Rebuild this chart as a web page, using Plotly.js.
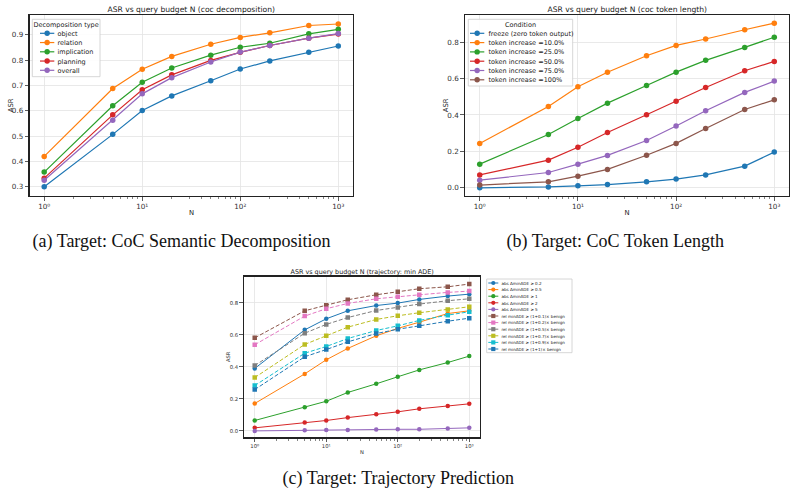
<!DOCTYPE html>
<html><head><meta charset="utf-8">
<script src="https://cdn.plot.ly/plotly-3.0.1.min.js"></script>
<style>
html,body{margin:0;padding:0;background:#fff;overflow:hidden;width:796px;height:495px}
#wrap{width:796px;height:495px;overflow:hidden;position:relative}
#chart{width:1592px;height:990px;transform:scale(0.5);transform-origin:0 0;position:absolute;left:0;top:0}
</style>
</head><body><div id="wrap"><div id="chart"></div></div>
<script>
// ---------------- DATA ----------------
const N = [1, 5, 10, 20, 50, 100, 200, 500, 1000];
const xTickVals = [1, 10, 100, 1000];
const xTickText = ['10⁰', '10¹', '10²', '10³'];

// (a) CoC semantic decomposition
const decompNames = ['object', 'relation', 'implication', 'planning', 'overall'];
const decObject      = [0.300, 0.507, 0.601, 0.659, 0.719, 0.765, 0.797, 0.831, 0.856];
const decRelation    = [0.420, 0.688, 0.764, 0.815, 0.863, 0.890, 0.908, 0.937, 0.943];
const decImplication = [0.358, 0.620, 0.713, 0.769, 0.820, 0.851, 0.867, 0.904, 0.922];
const decPlanning    = [0.334, 0.584, 0.683, 0.742, 0.799, 0.831, 0.858, 0.887, 0.903];
const decOverall     = [0.326, 0.563, 0.667, 0.731, 0.793, 0.832, 0.858, 0.887, 0.905];

// (b) CoC token length
const tokNames = ['freeze (zero token output)', 'token increase =10.0%', 'token increase =25.0%',
                  'token increase =50.0%', 'token increase =75.0%', 'token increase =100%'];
const tokFreeze = [0.000, 0.005, 0.011, 0.018, 0.033, 0.048, 0.071, 0.119, 0.196];
const tok10     = [0.243, 0.447, 0.555, 0.635, 0.725, 0.782, 0.817, 0.868, 0.904];
const tok25     = [0.130, 0.293, 0.381, 0.465, 0.562, 0.635, 0.700, 0.771, 0.827];
const tok50     = [0.071, 0.152, 0.223, 0.304, 0.401, 0.476, 0.551, 0.643, 0.694];
const tok75     = [0.042, 0.084, 0.130, 0.178, 0.260, 0.339, 0.423, 0.524, 0.586];
const tok100    = [0.015, 0.033, 0.064, 0.101, 0.179, 0.244, 0.326, 0.430, 0.483];

// (c) Trajectory prediction
const trajNames = ['abs ΔminADE ≥ 0.2', 'abs ΔminADE ≥ 0.5', 'abs ΔminADE ≥ 1', 'abs ΔminADE ≥ 2',
  'abs ΔminADE ≥ 5', 'rel minADE ≥ (1+0.1)× benign', 'rel minADE ≥ (1+0.2)× benign',
  'rel minADE ≥ (1+0.5)× benign', 'rel minADE ≥ (1+0.7)× benign', 'rel minADE ≥ (1+0.9)× benign',
  'rel minADE ≥ (1+1)× benign'];
const abs02 = [0.390, 0.631, 0.700, 0.750, 0.783, 0.798, 0.821, 0.842, 0.854];
const abs05 = [0.171, 0.356, 0.444, 0.515, 0.594, 0.640, 0.679, 0.733, 0.750];
const abs1  = [0.065, 0.148, 0.185, 0.240, 0.294, 0.338, 0.381, 0.427, 0.467];
const abs2  = [0.019, 0.052, 0.065, 0.083, 0.104, 0.119, 0.138, 0.156, 0.169];
const abs5  = [0.000, 0.004, 0.006, 0.006, 0.008, 0.010, 0.010, 0.015, 0.019];
const rel01 = [0.581, 0.750, 0.785, 0.819, 0.850, 0.869, 0.888, 0.900, 0.917];
const rel02 = [0.538, 0.717, 0.763, 0.796, 0.825, 0.838, 0.850, 0.865, 0.873];
const rel05 = [0.408, 0.610, 0.665, 0.708, 0.752, 0.771, 0.792, 0.813, 0.825];
const rel07 = [0.333, 0.540, 0.594, 0.648, 0.696, 0.719, 0.738, 0.758, 0.775];
const rel09 = [0.283, 0.485, 0.527, 0.577, 0.627, 0.656, 0.690, 0.723, 0.744];
const rel10 = [0.258, 0.463, 0.508, 0.556, 0.608, 0.635, 0.656, 0.685, 0.704];

// ---------------- STYLE ----------------
// The figure is laid out at 2x and scaled down with CSS, so tiny fonts are not clamped.
const S = 2;
const tab10 = ['#1f77b4', '#ff7f0e', '#2ca02c', '#d62728', '#9467bd', '#8c564b', '#e377c2', '#7f7f7f', '#bcbd22', '#17becf'];
const W = 796, H = 495;
const px = x => x / W, py = y => 1 - y / H;
const FONT = 'DejaVu Sans, sans-serif';
const SERIF = 'Liberation Serif, Times New Roman, serif';

const minorVals = [];
for (let d = 1; d <= 100; d *= 10) for (let k = 2; k <= 9; k++) minorVals.push(k * d);

// panel boxes in (display) pixels: [left, right, top, bottom]
const boxA = [29.5, 353, 15, 196];
const boxB = [465, 789, 15, 196];
const boxC = [244, 480, 276.7, 437.3];

function xax(box, anchor, fs) {
  return {
    domain: [px(box[0]), px(box[1])], anchor: anchor, type: 'log', range: [-0.15, 3.15],
    tickmode: 'array', tickvals: xTickVals, ticktext: xTickText,
    ticks: 'outside', ticklen: 3.5 * S, tickwidth: 0.8 * S, tickcolor: '#333',
    showline: true, mirror: true, linecolor: '#222', linewidth: 1.3 * S,
    showgrid: true, gridcolor: '#e4e4e4', gridwidth: 0.8 * S, zeroline: false,
    tickfont: {family: FONT, size: fs * S, color: '#333'},
    minor: {tickmode: 'array', tickvals: minorVals, ticks: 'outside', ticklen: 2 * S, tickwidth: 0.6 * S, tickcolor: '#333', showgrid: false},
    fixedrange: true
  };
}
function yax(box, anchor, range, dtick, fs) {
  return {
    domain: [py(box[3]), py(box[2])], anchor: anchor, range: range,
    tickmode: 'linear', tick0: 0, dtick: dtick, tickformat: '.1f',
    ticks: 'outside', ticklen: 3.5 * S, tickwidth: 0.8 * S, tickcolor: '#333',
    showline: true, mirror: true, linecolor: '#222', linewidth: 1.3 * S,
    showgrid: true, gridcolor: '#e4e4e4', gridwidth: 0.8 * S, zeroline: false,
    tickfont: {family: FONT, size: fs * S, color: '#333'},
    fixedrange: true
  };
}

const traces = [];
function addSeries(ys, name, color, xa, ya, opts) {
  traces.push({
    x: N, y: ys, name: name, type: 'scatter', mode: 'lines+markers',
    xaxis: xa, yaxis: ya, showlegend: false,
    line: {color: color, width: opts.lw * S, dash: opts.dash || 'solid'},
    marker: {color: color, size: opts.ms * S, symbol: opts.symbol || 'circle'},
    hoverinfo: 'skip'
  });
}

const decSeries = [decObject, decRelation, decImplication, decPlanning, decOverall];
decSeries.forEach((s, i) => addSeries(s, decompNames[i], tab10[i], 'x', 'y', {lw: 1.2, ms: 5.5}));
const tokSeries = [tokFreeze, tok10, tok25, tok50, tok75, tok100];
tokSeries.forEach((s, i) => addSeries(s, tokNames[i], tab10[i], 'x2', 'y2', {lw: 1.2, ms: 5.5}));
const trajSeries = [abs02, abs05, abs1, abs2, abs5, rel01, rel02, rel05, rel07, rel09, rel10];
const trajColors = [tab10[0], tab10[1], tab10[2], tab10[3], tab10[4], tab10[5], tab10[6], tab10[7], tab10[8], tab10[9], tab10[0]];
trajSeries.forEach((s, i) => {
  const rel = i >= 5;
  addSeries(s, trajNames[i], trajColors[i], 'x3', 'y3',
    {lw: 1, ms: 4.5, symbol: rel ? 'square' : 'circle', dash: rel ? (4 * S) + 'px,' + (2 * S) + 'px' : 'solid'});
});

// ---------------- ANNOTATIONS / LEGENDS ----------------
const annotations = [];
const shapes = [];
function txt(x, y, text, size, opts) {
  opts = opts || {};
  annotations.push({
    x: px(x), y: py(y), xref: 'paper', yref: 'paper', text: text, showarrow: false,
    xanchor: opts.xanchor || 'center', yanchor: opts.yanchor || 'middle',
    textangle: opts.angle || 0, borderpad: 0,
    font: {family: opts.family || FONT, size: size * S, color: opts.color || '#222'}
  });
}

// titles
txt((boxA[0] + boxA[1]) / 2, 9.3, 'ASR vs query budget N (coc decomposition)', 7.6);
txt((boxB[0] + boxB[1]) / 2, 9.3, 'ASR vs query budget N (coc token length)', 7.6);
txt((boxC[0] + boxC[1]) / 2, 271, 'ASR vs query budget N (trajectory: min ADE)', 6.4);
// axis titles
txt((boxA[0] + boxA[1]) / 2, 212, 'N', 6.8);
txt(10.7, 105, 'ASR', 6.8, {angle: -90});
txt((boxB[0] + boxB[1]) / 2, 212, 'N', 6.8);
txt(445.7, 105, 'ASR', 6.8, {angle: -90});
txt((boxC[0] + boxC[1]) / 2, 452, 'N', 5.2);
txt(228, 357, 'ASR', 5.2, {angle: -90});
// captions
txt(181.5, 241, '(a) Target: CoC Semantic Decomposition', 18, {family: SERIF, color: '#111'});
txt(615, 241, '(b) Target: CoC Token Length', 18, {family: SERIF, color: '#111'});
txt(398, 478, '(c) Target: Trajectory Prediction', 18, {family: SERIF, color: '#111'});

function legendBox(box, title, names, colors, opt) {
  shapes.push({type: 'rect', xref: 'paper', yref: 'paper', x0: px(box[0]), x1: px(box[1]), y0: py(box[3]), y1: py(box[2]),
    fillcolor: 'rgba(255,255,255,0.9)', line: {color: '#cccccc', width: 0.8 * S}, layer: 'above'});
  if (title) txt((box[0] + box[1]) / 2, opt.titleY, title, opt.fs);
  names.forEach((nm, i) => {
    const y = opt.y0 + i * opt.dy;
    const c = colors[i];
    const sq = opt.square && opt.square(i);
    shapes.push({type: 'line', xref: 'paper', yref: 'paper', x0: px(opt.l0), x1: px(opt.l1), y0: py(y), y1: py(y),
      line: {color: c, width: opt.lw * S}, layer: 'above'});
    const r = opt.r, cx = (opt.l0 + opt.l1) / 2;
    shapes.push({type: sq ? 'rect' : 'circle', xref: 'paper', yref: 'paper',
      x0: px(cx - r), x1: px(cx + r), y0: py(y + r), y1: py(y - r),
      fillcolor: c, line: {color: c, width: 0}, layer: 'above'});
    txt(opt.tx, y, nm, opt.fs, {xanchor: 'left'});
  });
}
legendBox([32.3, 100, 19.3, 76.7], 'Decomposition type', decompNames, tab10,
  {titleY: 24.7, y0: 33.3, dy: 9.25, l0: 40, l1: 54.3, tx: 57, fs: 6.5, lw: 1.2, r: 2.7});
legendBox([468.3, 572.7, 19.3, 86], 'Condition', tokNames, tab10,
  {titleY: 24.3, y0: 33.3, dy: 9.3, l0: 470, l1: 484.3, tx: 488, fs: 6.5, lw: 1.2, r: 2.7});
legendBox([486.7, 572, 279, 352.7], null, trajNames, trajColors,
  {y0: 283, dy: 6.6, l0: 488.3, l1: 498.3, tx: 501, fs: 4.1, lw: 1, r: 2.1, square: i => i >= 5});

const layout = {
  width: W * S, height: H * S, margin: {l: 0, r: 0, t: 0, b: 0},
  paper_bgcolor: '#ffffff', plot_bgcolor: '#ffffff', showlegend: false,
  font: {family: FONT, color: '#222'},
  xaxis: xax(boxA, 'y', 7.2), yaxis: yax(boxA, 'x', [0.2635, 0.9785], 0.1, 7.2),
  xaxis2: xax(boxB, 'y2', 7.2), yaxis2: yax(boxB, 'x2', [-0.045, 0.949], 0.2, 7.2),
  xaxis3: xax(boxC, 'y3', 5.3), yaxis3: yax(boxC, 'x3', [-0.04, 0.963], 0.2, 5.3),
  annotations: annotations, shapes: shapes
};
Plotly.newPlot('chart', traces, layout, {staticPlot: true, displayModeBar: false});
</script></body></html>
